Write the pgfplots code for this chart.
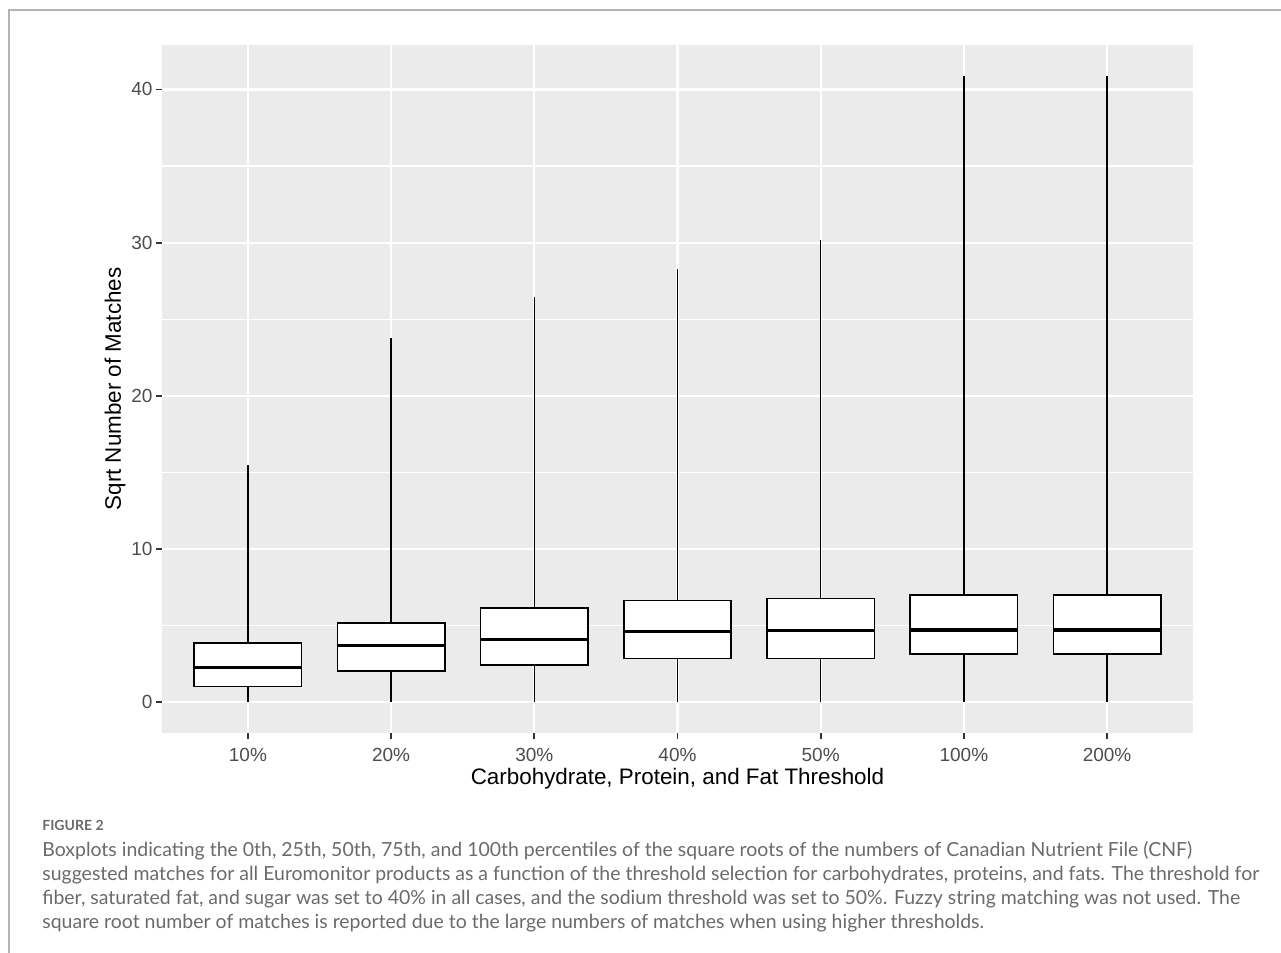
\documentclass[border=0pt]{standalone}
\usepackage{pgfplots}
\pgfplotsset{compat=1.18}
\usepgfplotslibrary{statistics}
\usepackage{fontspec}
\setmainfont{Liberation Sans}
\newfontfamily\capfont{Lato}
\definecolor{ggbg}{HTML}{EBEBEB}
\definecolor{ggtick}{HTML}{4D4D4D}
\definecolor{ggtickmark}{HTML}{333333}
\definecolor{capgray}{HTML}{6A6A6A}
\definecolor{framegray}{HTML}{B4B4B4}
\begin{document}
\begin{tikzpicture}
\path[use as bounding box] (0,0) rectangle (640.5pt,476.5pt);
\draw[framegray, line width=0.8pt] (4.5pt,0) -- (4.5pt,471.5pt) -- (640.5pt,471.5pt);
\begin{axis}[
  at={(81pt,110pt)}, anchor=south west,
  scale only axis, width=515.5pt, height=344pt,
  xmin=0.4, xmax=7.6, ymin=-2.0, ymax=42.9,
  axis line style={draw=none},
  axis background/.style={fill=ggbg},
  xtick={1,2,3,4,5,6,7},
  xticklabels={10\%,20\%,30\%,40\%,50\%,100\%,200\%},
  ytick={0,10,20,30,40},
  minor ytick={5,15,25,35},
  grid=both,
  major grid style={white, line width=1.1pt},
  minor grid style={white, line width=0.55pt},
  tick align=outside,
  major tick length=3pt, minor tick length=0pt,
  tick style={ggtickmark, line width=0.9pt},
  xtick pos=bottom, ytick pos=left,
  /pgf/number format/assume math mode=true,
  ticklabel style={font=\fontsize{9.5}{11}\selectfont, text=ggtick},
  xticklabel style={yshift=-1pt},
  yticklabel style={xshift=1.8pt},
  xlabel={Carbohydrate, Protein, and Fat Threshold},
  ylabel={Sqrt Number of Matches},
  label style={font=\fontsize{11.2}{13}\selectfont, text=black},
  xlabel style={at={(axis description cs:0.5,-0.0669)}, anchor=center},
  ylabel style={at={(axis description cs:-0.0456,0.5)}, anchor=center},
  boxplot/draw direction=y,
  boxplot/box extend=0.75,
  boxplot/whisker extend=0,
  boxplot/every median/.style={line width=1.6pt},
]
\addplot[black, fill=white, line width=0.75pt, boxplot prepared={draw position=1,
  lower whisker=0, lower quartile=1.02, median=2.28, upper quartile=3.86, upper whisker=15.5}] coordinates {};
\addplot[black, fill=white, line width=0.75pt, boxplot prepared={draw position=2,
  lower whisker=0, lower quartile=2.05, median=3.72, upper quartile=5.19, upper whisker=23.78}] coordinates {};
\addplot[black, fill=white, line width=0.75pt, boxplot prepared={draw position=3,
  lower whisker=0, lower quartile=2.45, median=4.10, upper quartile=6.17, upper whisker=26.45}] coordinates {};
\addplot[black, fill=white, line width=0.75pt, boxplot prepared={draw position=4,
  lower whisker=0, lower quartile=2.85, median=4.63, upper quartile=6.66, upper whisker=28.3}] coordinates {};
\addplot[black, fill=white, line width=0.75pt, boxplot prepared={draw position=5,
  lower whisker=0, lower quartile=2.85, median=4.71, upper quartile=6.78, upper whisker=30.15}] coordinates {};
\addplot[black, fill=white, line width=0.75pt, boxplot prepared={draw position=6,
  lower whisker=0, lower quartile=3.15, median=4.72, upper quartile=6.99, upper whisker=40.85}] coordinates {};
\addplot[black, fill=white, line width=0.75pt, boxplot prepared={draw position=7,
  lower whisker=0, lower quartile=3.15, median=4.72, upper quartile=6.99, upper whisker=40.85}] coordinates {};
\end{axis}
\node[anchor=base west, inner sep=0, text=capgray, font=\capfont\bfseries\fontsize{7}{8}\selectfont] at (21pt,61pt) {FIGURE 2};
\begin{scope}[every node/.style={anchor=base west, inner sep=0, text=capgray, font=\capfont\fontsize{9.73}{12}\selectfont}]
\node at (21pt,48pt) {Boxplots indicating the 0th, 25th, 50th, 75th, and 100th percentiles of the square roots of the numbers of Canadian Nutrient File (CNF)};
\node at (21pt,36pt) {suggested matches for all Euromonitor products as a function of the threshold selection for carbohydrates, proteins, and fats. The threshold for};
\node at (21pt,24pt) {fiber, saturated fat, and sugar was set to 40\% in all cases, and the sodium threshold was set to 50\%. Fuzzy string matching was not used. The};
\node at (21pt,12pt) {square root number of matches is reported due to the large numbers of matches when using higher thresholds.};
\end{scope}
\end{tikzpicture}
\end{document}
